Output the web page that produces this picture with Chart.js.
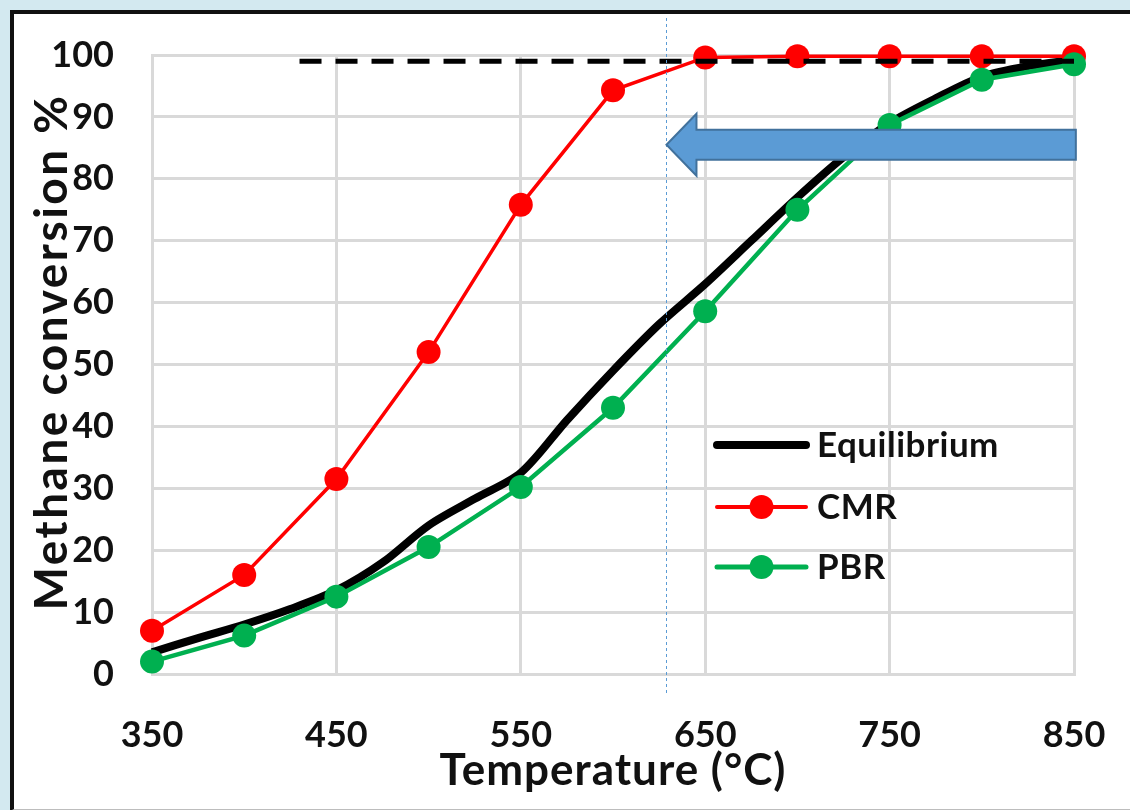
<!DOCTYPE html>
<html>
<head>
<meta charset="utf-8">
<script src="https://cdn.jsdelivr.net/npm/chart.js@4.4.1/dist/chart.umd.min.js"></script>
<style>
  body { margin: 0; background: #d3e9f0; }
  #frame {
    position: absolute; left: 10px; top: 10px; width: 1130px; height: 795px;
    background: #fff; border-left: 4px solid #111; border-top: 4px solid #111;
    border-bottom: 2px solid #bdbdbd;
  }
  #wrap { position: absolute; left: 0; top: 0; width: 1130px; height: 810px; }
</style>
</head>
<body>
<div id="frame"></div>
<div id="wrap"><canvas id="chart" width="1130" height="810"></canvas></div>
<script>
// temperatures (°C)
const temps = [350, 400, 450, 500, 550, 600, 650, 700, 750, 800, 850];
const cmr = [7, 16, 31.5, 52, 75.8, 94.3, 99.6, 99.8, 99.8, 99.8, 99.8];
const pbr = [2, 6.2, 12.5, 20.5, 30.2, 43, 58.6, 75, 88.7, 96, 98.5];

// equilibrium curve (finer steps)
const eqTemps = [350, 375, 400, 425, 450, 475, 500, 525, 550, 575, 600, 625, 650, 675, 700, 725, 750, 775, 800, 825, 850];
const eqVals = [3.5, 5.8, 8, 10.5, 13.5, 18, 24, 28.3, 32.5, 41, 49, 56.5, 63, 70, 77, 83.5, 89, 93, 96.5, 98.2, 99.2];

const xTicks = [350, 450, 550, 650, 750, 850];
const yTicks = [0, 10, 20, 30, 40, 50, 60, 70, 80, 90, 100];

const xTitle = "Temperature (°C)";
const yTitle = "Methane conversion %";

// dashed reference level and annotation
const refLevel = 99;
const refStart = 430;
const markTemp = 629;
const arrowLevel = 85.5;
const arrowTail = 851;

const FONT = "Lato, 'DejaVu Sans', sans-serif";

function pts(xs, ys) {
  return xs.map((x, i) => ({ x: x, y: ys[i] }));
}

const extras = {
  id: "extras",
  afterDraw(chart) {
    const ctx = chart.ctx;
    const xs = chart.scales.x, ys = chart.scales.y;
    const area = chart.chartArea;

    // axis titles
    ctx.save();
    ctx.fillStyle = "#111";
    ctx.textAlign = "center";
    ctx.textBaseline = "middle";
    ctx.font = "bold 44px " + FONT;
    ctx.letterSpacing = "1px";
    ctx.fillText(xTitle, (area.left + area.right) / 2, 771);
    ctx.font = "bold 46px " + FONT;
    ctx.letterSpacing = "2.5px";
    ctx.translate(52, 352);
    ctx.rotate(-Math.PI / 2);
    ctx.fillText(yTitle, 0, 0);
    ctx.restore();

    // blue dotted vertical line
    const vx = Math.round(xs.getPixelForValue(markTemp)) + 0.5;
    ctx.save();
    ctx.strokeStyle = "#5b9bd5";
    ctx.lineWidth = 1;
    ctx.setLineDash([3, 3]);
    ctx.beginPath();
    ctx.moveTo(vx, 18);
    ctx.lineTo(vx, area.bottom + 21);
    ctx.stroke();
    ctx.restore();

    // blue arrow pointing left
    const tipX = xs.getPixelForValue(markTemp);
    const tailX = xs.getPixelForValue(arrowTail);
    const cy = ys.getPixelForValue(arrowLevel);
    const shaft = 15, head = 31, headLen = 30;
    ctx.save();
    ctx.fillStyle = "#5b9bd5";
    ctx.strokeStyle = "#41719c";
    ctx.lineWidth = 2;
    ctx.beginPath();
    ctx.moveTo(tipX, cy);
    ctx.lineTo(tipX + headLen, cy - head);
    ctx.lineTo(tipX + headLen, cy - shaft);
    ctx.lineTo(tailX, cy - shaft);
    ctx.lineTo(tailX, cy + shaft);
    ctx.lineTo(tipX + headLen, cy + shaft);
    ctx.lineTo(tipX + headLen, cy + head);
    ctx.closePath();
    ctx.fill();
    ctx.stroke();
    ctx.restore();

    // legend inside plot
    const items = chart.data.datasets.filter(d => d.label);
    const lx0 = 717, lx1 = 806, tx = 817;
    const rows = [445, 507, 567];
    ctx.save();
    ctx.font = "bold 35px " + FONT;
    ctx.letterSpacing = "0.5px";
    ctx.textBaseline = "middle";
    items.forEach((d, i) => {
      const y = rows[i];
      ctx.strokeStyle = d.borderColor;
      ctx.lineWidth = d.legendWidth;
      ctx.lineCap = "round";
      ctx.beginPath();
      ctx.moveTo(lx0, y);
      ctx.lineTo(lx1, y);
      ctx.stroke();
      if (d.pointRadius > 0) {
        ctx.fillStyle = d.pointBackgroundColor;
        ctx.beginPath();
        ctx.arc((lx0 + lx1) / 2, y, d.pointRadius, 0, Math.PI * 2);
        ctx.fill();
      }
      ctx.fillStyle = "#111";
      ctx.fillText(d.label, tx, y + 1);
    });
    ctx.restore();
  }
};

new Chart(document.getElementById("chart"), {
  type: "line",
  data: {
    datasets: [
      {
        label: "Equilibrium",
        data: pts(eqTemps, eqVals),
        borderColor: "#000",
        borderWidth: 8,
        legendWidth: 8,
        pointRadius: 0,
        tension: 0.3,
        order: 3
      },
      {
        label: "CMR",
        data: pts(temps, cmr),
        borderColor: "#ff0000",
        borderWidth: 3.5,
        legendWidth: 4,
        pointRadius: 12,
        pointBackgroundColor: "#ff0000",
        pointBorderColor: "#ff0000",
        pointBorderWidth: 0,
        tension: 0,
        order: 2
      },
      {
        label: "PBR",
        data: pts(temps, pbr),
        borderColor: "#00b050",
        borderWidth: 4.5,
        legendWidth: 5,
        pointRadius: 12,
        pointBackgroundColor: "#00b050",
        pointBorderColor: "#00b050",
        pointBorderWidth: 0,
        tension: 0,
        order: 1
      },
      {
        data: pts([refStart, 850], [refLevel, refLevel]),
        borderColor: "#000",
        borderWidth: 5,
        borderDash: [22, 14],
        pointRadius: 0,
        order: 0
      }
    ]
  },
  options: {
    responsive: false,
    animation: false,
    clip: false,
    layout: { padding: { left: 14, top: 55, right: 56, bottom: 4 } },
    plugins: { legend: { display: false }, tooltip: { enabled: false } },
    scales: {
      x: {
        type: "linear",
        min: 350,
        max: 850,
        afterBuildTicks: (s) => { s.ticks = xTicks.map(v => ({ value: v })); },
        afterFit: (s) => { s.height = 132; s.paddingLeft = 0; s.paddingRight = 0; },
        grid: { color: "#d9d9d9", lineWidth: 3, drawTicks: false },
        border: { color: "#d9d9d9", width: 3 },
        ticks: { color: "#111", padding: 40, font: { family: FONT, size: 36, weight: "bold" } }
      },
      y: {
        min: 0,
        max: 100,
        afterBuildTicks: (s) => { s.ticks = yTicks.map(v => ({ value: v })); },
        afterFit: (s) => { s.width = 138; s.paddingTop = 0; s.paddingBottom = 0; },
        grid: { color: "#d9d9d9", lineWidth: 3, drawTicks: false },
        border: { color: "#d9d9d9", width: 3 },
        ticks: { color: "#111", padding: 38, font: { family: FONT, size: 36, weight: "bold" } }
      }
    }
  },
  plugins: [extras]
});
</script>
</body>
</html>
